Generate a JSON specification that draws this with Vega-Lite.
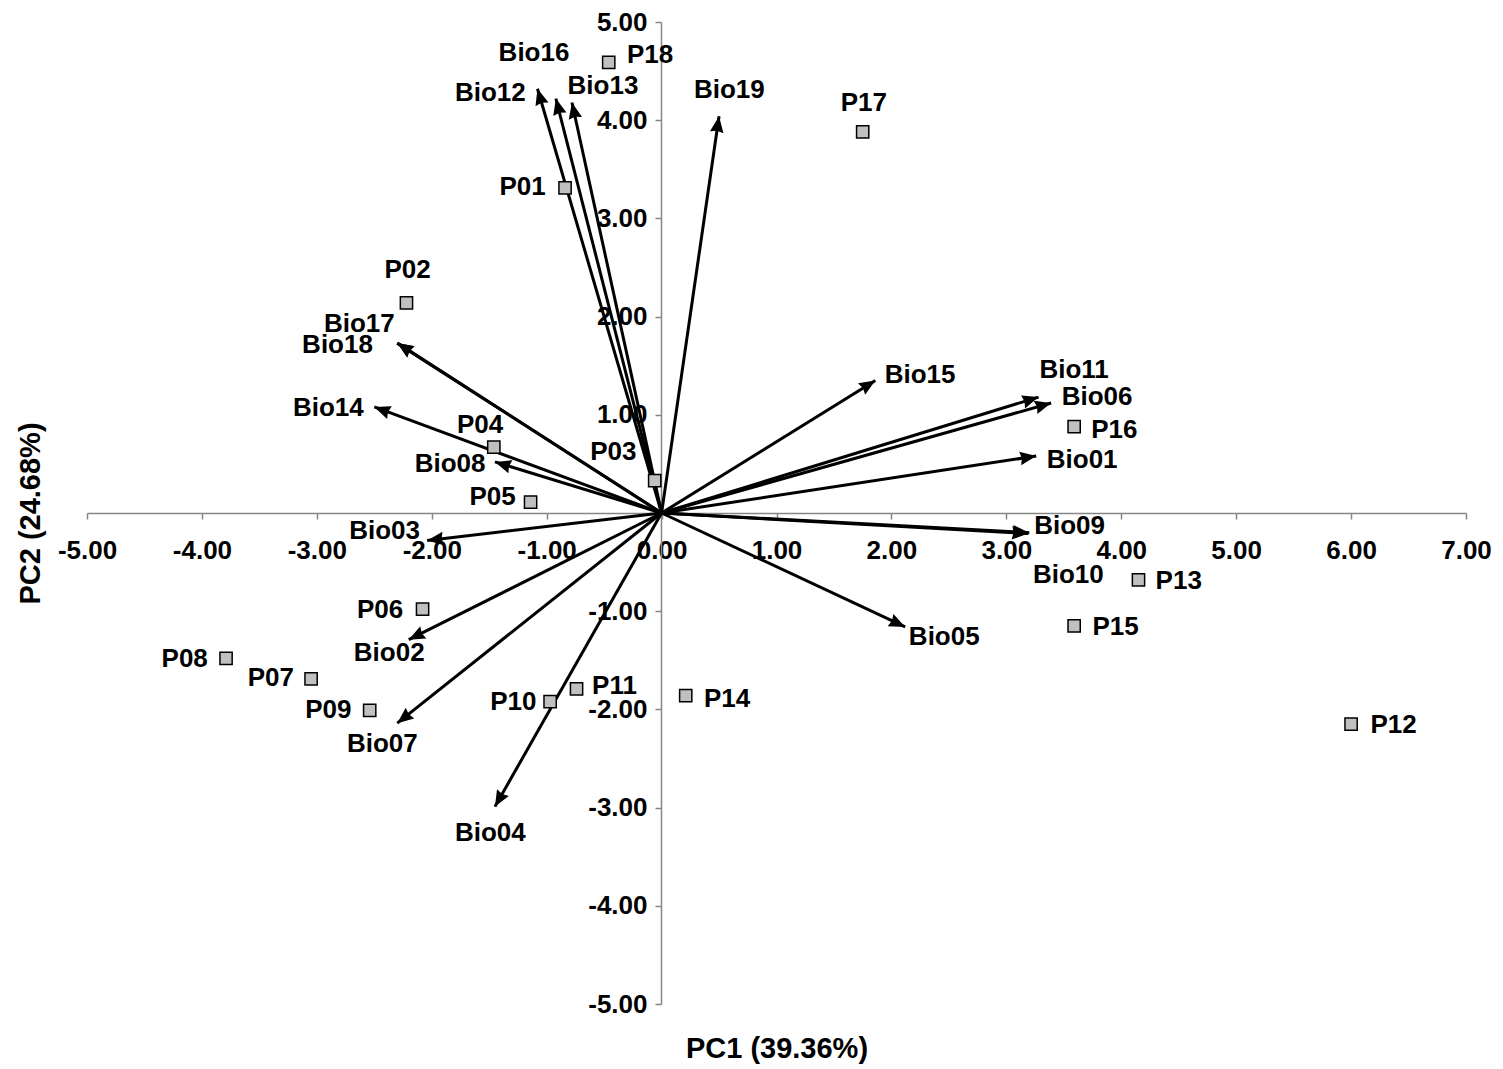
{
  "$schema": "https://vega.github.io/schema/vega-lite/v6.json",
  "width": 1379,
  "height": 982,
  "autosize": "none",
  "padding": {"left": 87, "top": 22, "right": 37, "bottom": 65},
  "background": "white",
  "config": {"view": {"stroke": null}, "font": "Liberation Sans"},
  "datasets": {
    "vars": [
      {"name": "Bio01", "pc1": 3.26, "pc2": 0.58, "lx": 3.66, "ly": 0.54},
      {"name": "Bio02", "pc1": -2.2, "pc2": -1.29, "lx": -2.37, "ly": -1.43},
      {"name": "Bio03", "pc1": -2.04, "pc2": -0.28, "lx": -2.41, "ly": -0.18},
      {"name": "Bio04", "pc1": -1.45, "pc2": -2.99, "lx": -1.49, "ly": -3.26},
      {"name": "Bio05", "pc1": 2.12, "pc2": -1.16, "lx": 2.46, "ly": -1.26},
      {"name": "Bio06", "pc1": 3.39, "pc2": 1.12, "lx": 3.79, "ly": 1.18},
      {"name": "Bio07", "pc1": -2.3, "pc2": -2.14, "lx": -2.43, "ly": -2.35},
      {"name": "Bio08", "pc1": -1.45, "pc2": 0.52, "lx": -1.84, "ly": 0.5},
      {"name": "Bio09", "pc1": 3.2, "pc2": -0.2, "lx": 3.55, "ly": -0.13},
      {"name": "Bio10", "pc1": 3.19, "pc2": -0.21, "lx": 3.54, "ly": -0.63},
      {"name": "Bio11", "pc1": 3.28, "pc2": 1.18, "lx": 3.59, "ly": 1.46},
      {"name": "Bio12", "pc1": -1.08, "pc2": 4.32, "lx": -1.49, "ly": 4.28},
      {"name": "Bio13", "pc1": -0.78, "pc2": 4.18, "lx": -0.51, "ly": 4.35},
      {"name": "Bio14", "pc1": -2.5, "pc2": 1.08, "lx": -2.9, "ly": 1.07},
      {"name": "Bio15", "pc1": 1.86, "pc2": 1.35, "lx": 2.25, "ly": 1.41},
      {"name": "Bio16", "pc1": -0.92, "pc2": 4.22, "lx": -1.11, "ly": 4.68},
      {"name": "Bio17", "pc1": -2.3, "pc2": 1.73, "lx": -2.63, "ly": 1.92},
      {"name": "Bio18", "pc1": -2.3, "pc2": 1.73, "lx": -2.82, "ly": 1.71},
      {"name": "Bio19", "pc1": 0.5, "pc2": 4.04, "lx": 0.59, "ly": 4.31}
    ],
    "pops": [
      {"name": "P01", "pc1": -0.84, "pc2": 3.31, "lx": -1.21, "ly": 3.32},
      {"name": "P02", "pc1": -2.22, "pc2": 2.14, "lx": -2.21, "ly": 2.47},
      {"name": "P03", "pc1": -0.06, "pc2": 0.33, "lx": -0.42, "ly": 0.62},
      {"name": "P04", "pc1": -1.46, "pc2": 0.67, "lx": -1.58, "ly": 0.9},
      {"name": "P05", "pc1": -1.14, "pc2": 0.11, "lx": -1.47, "ly": 0.16},
      {"name": "P06", "pc1": -2.08, "pc2": -0.98, "lx": -2.45, "ly": -0.99},
      {"name": "P07", "pc1": -3.05, "pc2": -1.69, "lx": -3.4, "ly": -1.68},
      {"name": "P08", "pc1": -3.79, "pc2": -1.48, "lx": -4.15, "ly": -1.49},
      {"name": "P09", "pc1": -2.54, "pc2": -2.01, "lx": -2.9, "ly": -2.01},
      {"name": "P10", "pc1": -0.97, "pc2": -1.92, "lx": -1.29, "ly": -1.92},
      {"name": "P11", "pc1": -0.74, "pc2": -1.79, "lx": -0.41, "ly": -1.76},
      {"name": "P12", "pc1": 6.0, "pc2": -2.15, "lx": 6.37, "ly": -2.16},
      {"name": "P13", "pc1": 4.15, "pc2": -0.68, "lx": 4.5, "ly": -0.69},
      {"name": "P14", "pc1": 0.21, "pc2": -1.86, "lx": 0.57, "ly": -1.89},
      {"name": "P15", "pc1": 3.59, "pc2": -1.15, "lx": 3.95, "ly": -1.16},
      {"name": "P16", "pc1": 3.59, "pc2": 0.88, "lx": 3.94, "ly": 0.85},
      {"name": "P17", "pc1": 1.75, "pc2": 3.88, "lx": 1.76, "ly": 4.18},
      {"name": "P18", "pc1": -0.46, "pc2": 4.59, "lx": -0.1, "ly": 4.66}
    ]
  },
  "layer": [
    {
      "data": {"name": "vars"},
      "mark": {"type": "rule", "color": "black", "strokeWidth": 3},
      "encoding": {
        "x": {
          "field": "pc1", "type": "quantitative",
          "scale": {"domain": [-5, 7], "nice": false, "zero": false},
          "axis": {
            "orient": "bottom", "offset": -491,
            "values": [-5, -4, -3, -2, -1, 0, 1, 2, 3, 4, 5, 6, 7],
            "labelExpr": "(datum.value < 0 ? '-' : '') + format(abs(datum.value), '.2f')",
            "labelFont": "Liberation Sans", "labelFontSize": 26, "labelFontWeight": "bold", "labelColor": "black",
            "labelPadding": 18, "labelOverlap": false, "labelFlush": false,
            "domainColor": "#868686", "domainWidth": 1.5, "tickColor": "#868686", "tickWidth": 1.5, "tickSize": 6,
            "grid": false,
            "title": "PC1 (39.36%)", "titleFont": "Liberation Sans", "titleFontSize": 29, "titleFontWeight": "bold", "titleColor": "black",
            "titleX": 689.5, "titleY": 521, "titleBaseline": "top", "titleAlign": "center"
          }
        },
        "y": {
          "field": "pc2", "type": "quantitative",
          "scale": {"domain": [-5, 5], "nice": false, "zero": false},
          "axis": {
            "orient": "left", "offset": -574,
            "values": [-5, -4, -3, -2, -1, 1, 2, 3, 4, 5],
            "labelExpr": "(datum.value < 0 ? '-' : '') + format(abs(datum.value), '.2f')",
            "labelFont": "Liberation Sans", "labelFontSize": 26, "labelFontWeight": "bold", "labelColor": "black",
            "labelPadding": 8, "labelOverlap": false, "labelFlush": false,
            "domainColor": "#868686", "domainWidth": 1.5, "tickColor": "#868686", "tickWidth": 1.5, "tickSize": 6,
            "grid": false,
            "title": "PC2 (24.68%)", "titleFont": "Liberation Sans", "titleFontSize": 29, "titleFontWeight": "bold", "titleColor": "black",
            "titleX": -631, "titleY": 491, "titleAngle": -90, "titleBaseline": "middle", "titleAlign": "center"
          }
        },
        "x2": {"datum": 0},
        "y2": {"datum": 0}
      }
    },
    {
      "data": {"name": "vars"},
      "transform": [
        {"calculate": "atan2(datum.pc1 * 114.917, datum.pc2 * 98.2) * 180 / PI", "as": "heading"}
      ],
      "mark": {"type": "point", "shape": "M0,0 L0.42,1 L0,0.9 L-0.42,1 Z", "filled": true, "color": "black", "size": 1050, "opacity": 1},
      "encoding": {
        "x": {"field": "pc1", "type": "quantitative", "scale": {"domain": [-5, 7], "nice": false, "zero": false}},
        "y": {"field": "pc2", "type": "quantitative", "scale": {"domain": [-5, 5], "nice": false, "zero": false}},
        "angle": {"field": "heading", "type": "quantitative", "scale": null}
      }
    },
    {
      "data": {"name": "pops"},
      "mark": {"type": "point", "shape": "square", "filled": true, "fill": "#c0c0c0", "stroke": "black", "strokeWidth": 1.5, "size": 150, "opacity": 1},
      "encoding": {
        "x": {"field": "pc1", "type": "quantitative", "scale": {"domain": [-5, 7], "nice": false, "zero": false}},
        "y": {"field": "pc2", "type": "quantitative", "scale": {"domain": [-5, 5], "nice": false, "zero": false}}
      }
    },
    {
      "data": {"name": "vars"},
      "mark": {"type": "text", "font": "Liberation Sans", "fontSize": 26, "fontWeight": "bold", "color": "black", "align": "center", "baseline": "middle"},
      "encoding": {
        "x": {"field": "lx", "type": "quantitative", "scale": {"domain": [-5, 7], "nice": false, "zero": false}},
        "y": {"field": "ly", "type": "quantitative", "scale": {"domain": [-5, 5], "nice": false, "zero": false}},
        "text": {"field": "name"}
      }
    },
    {
      "data": {"name": "pops"},
      "mark": {"type": "text", "font": "Liberation Sans", "fontSize": 26, "fontWeight": "bold", "color": "black", "align": "center", "baseline": "middle"},
      "encoding": {
        "x": {"field": "lx", "type": "quantitative", "scale": {"domain": [-5, 7], "nice": false, "zero": false}},
        "y": {"field": "ly", "type": "quantitative", "scale": {"domain": [-5, 5], "nice": false, "zero": false}},
        "text": {"field": "name"}
      }
    }
  ]
}
